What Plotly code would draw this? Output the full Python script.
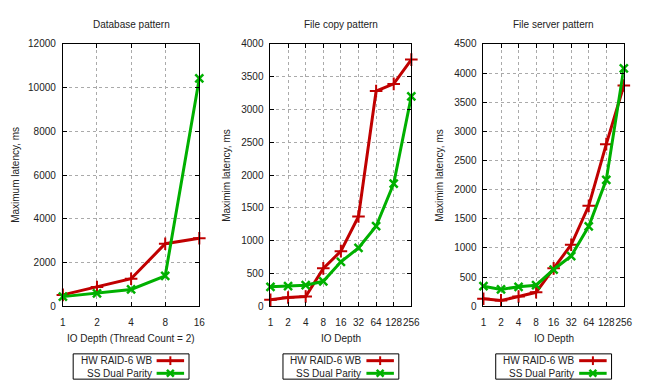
import plotly.graph_objects as go

# ---- data ----
db_depth = ["1", "2", "4", "8", "16"]
db_hw = [520, 880, 1260, 2860, 3110]
db_ss = [440, 590, 770, 1390, 10420]

fc_depth = ["1", "2", "4", "8", "16", "32", "64", "128", "256"]
fc_hw = [100, 133, 148, 578, 840, 1368, 3280, 3390, 3760]
fc_ss = [296, 306, 321, 380, 677, 889, 1220, 1870, 3200]

fs_depth = ["1", "2", "4", "8", "16", "32", "64", "128", "256"]
fs_hw = [128, 100, 167, 239, 650, 1055, 1722, 2780, 3785]
fs_ss = [344, 289, 333, 361, 630, 861, 1372, 2167, 4080]

titles = ["Database pattern", "File copy pattern", "File server pattern"]
xtitles = ["IO Depth (Thread Count = 2)", "IO Depth", "IO Depth"]
ytitles = ["Maximum latency, ms", "Maximim latency, ms", "Maximim latency, ms"]
ymax = [12000, 4000, 4500]
ydtick = [2000, 500, 500]
series_names = ["HW RAID-6 WB", "SS Dual Parity"]

RED = "#c00000"
GREEN = "#00b000"
FONT = "Liberation Sans, Arial, sans-serif"
TXT = "#222"
FS = 10
W, H = 650, 390

panels = [(db_depth, db_hw, db_ss), (fc_depth, fc_hw, fc_ss), (fs_depth, fs_hw, fs_ss)]
xpix = [(61, 200), (272.5, 416), (489.5, 632.5)]
ytop, ybot = 40, 310
ydom = [1 - ybot / H, 1 - ytop / H]

fig = go.Figure()
layout = dict(
    width=W, height=H, margin=dict(l=0, r=0, t=0, b=0),
    paper_bgcolor="white", plot_bgcolor="white", showlegend=False,
    font=dict(family=FONT, size=FS, color=TXT),
)
shapes = []
annotations = []


def ann(text, px, py, xanchor="center", angle=0):
    annotations.append(dict(text=text, x=px / W, y=1 - py / H, xref="paper", yref="paper",
                            xanchor=xanchor, yanchor="middle", showarrow=False, textangle=angle,
                            font=dict(size=FS, family=FONT, color=TXT)))


for i, (depth, hw, ss) in enumerate(panels):
    n = i + 1
    xa = "x" if n == 1 else f"x{n}"
    ya = "y" if n == 1 else f"y{n}"
    fig.add_trace(go.Scatter(
        x=depth, y=hw, xaxis=xa, yaxis=ya, mode="lines+markers", name=series_names[0],
        line=dict(color=RED, width=3),
        marker=dict(symbol="cross-thin", size=9, line=dict(color=RED, width=2)),
        cliponaxis=False,
    ))
    fig.add_trace(go.Scatter(
        x=depth, y=ss, xaxis=xa, yaxis=ya, mode="lines+markers", name=series_names[1],
        line=dict(color=GREEN, width=3),
        marker=dict(symbol="x-thin", size=8, line=dict(color=GREEN, width=2.5)),
        cliponaxis=False,
    ))
    x0, x1 = xpix[i]
    common = dict(
        showline=True, linecolor="black", linewidth=1, mirror="allticks",
        ticks="inside", ticklen=4, tickcolor="black", tickwidth=1,
        showgrid=True, gridcolor="#aaaaaa", griddash="dot", gridwidth=1,
        zeroline=False, tickfont=dict(family=FONT, size=FS, color=TXT),
    )
    layout["xaxis" if n == 1 else f"xaxis{n}"] = dict(
        common, domain=[x0 / W, x1 / W], anchor=ya, type="category",
        range=[0, len(depth) - 1], ticklabelstandoff=7, tickangle=0,
    )
    layout["yaxis" if n == 1 else f"yaxis{n}"] = dict(
        common, domain=ydom, anchor=xa, range=[0, ymax[i]], dtick=ydtick[i],
        tickformat="d", ticklabelstandoff=4,
    )
    cx = (x0 + x1) / 2
    ann(titles[i], cx, 20)
    ann(xtitles[i], cx, 343)
    ann(ytitles[i], [12, 227, 444][i], 175, angle=-90)
    # legend box
    lx0, lx1 = cx - 59, cx + 59
    shapes.append(dict(type="rect", xref="paper", yref="paper",
                       x0=lx0 / W, x1=lx1 / W, y0=1 - 385 / H, y1=1 - 359 / H,
                       line=dict(color="black", width=1), fillcolor="white"))
    for j, (nm, col, yy) in enumerate([(series_names[0], RED, 366), (series_names[1], GREEN, 379)]):
        ann(nm, cx + 23, yy, xanchor="right")
        shapes.append(dict(type="line", xref="paper", yref="paper",
                           x0=(cx + 26) / W, x1=(cx + 54) / W, y0=1 - yy / H, y1=1 - yy / H,
                           line=dict(color=col, width=3)))
        mx = cx + 40
        if j == 0:
            shapes.append(dict(type="line", xref="paper", yref="paper",
                               x0=mx / W, x1=mx / W, y0=1 - (yy - 4.5) / H, y1=1 - (yy + 4.5) / H,
                               line=dict(color=col, width=2)))
        else:
            for dx in (-3.5, 3.5):
                shapes.append(dict(type="line", xref="paper", yref="paper",
                                   x0=(mx - dx) / W, x1=(mx + dx) / W,
                                   y0=1 - (yy - 3.5) / H, y1=1 - (yy + 3.5) / H,
                                   line=dict(color=col, width=2.5)))

layout["shapes"] = shapes
layout["annotations"] = annotations
fig.update_layout(**layout)
fig.write_html("out.html", config={"displayModeBar": False},
               post_script="document.body.style.margin='0';")
